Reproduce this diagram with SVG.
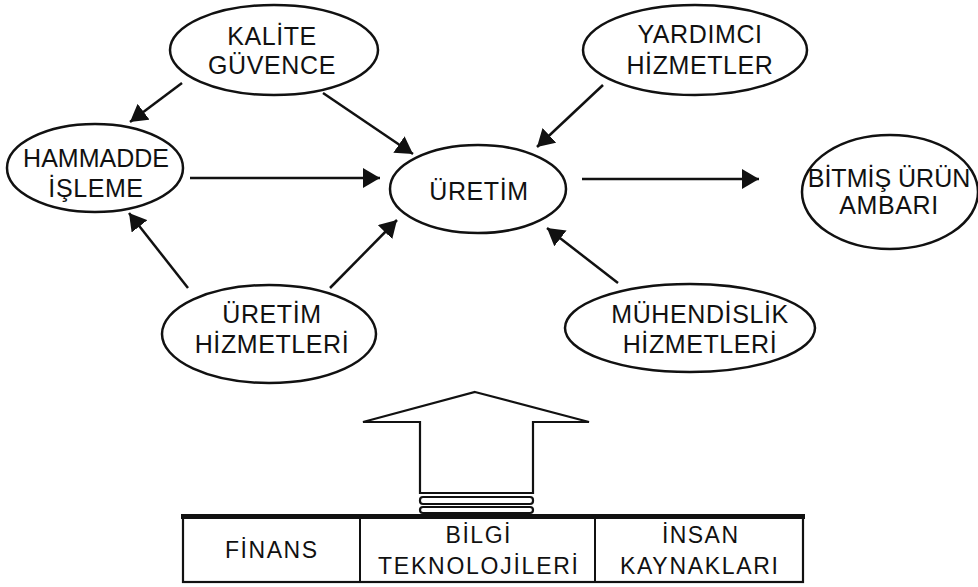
<svg xmlns="http://www.w3.org/2000/svg" width="978" height="587" viewBox="0 0 978 587">
  <style>
    .node ellipse { fill: #fff; stroke: #111; stroke-width: 2.5; }
    .label { font-family: "Liberation Sans", Arial, sans-serif; font-size: 25px; letter-spacing: 0.6px; fill: #111; text-anchor: middle; }
    .cell { font-family: "Liberation Sans", Arial, sans-serif; font-size: 23px; fill: #111; text-anchor: middle; }
    .edge { stroke: #111; stroke-width: 2.5; fill: none; marker-end: url(#head); }
    .outline { fill: #fff; stroke: #111; stroke-width: 2.2; }
  </style>
  <defs>
    <marker id="head" markerUnits="userSpaceOnUse" markerWidth="18" markerHeight="20" refX="17" refY="10" orient="auto">
      <path d="M0,0 L17,10 L0,20 z" fill="#111"/>
    </marker>
  </defs>
  <rect width="978" height="587" fill="#fff"/>

  <!-- connectors -->
  <g id="connectors">
    <line class="edge" x1="182" y1="83" x2="130" y2="122"/>
    <line class="edge" x1="323" y1="93" x2="413" y2="154"/>
    <line class="edge" x1="190" y1="178" x2="380" y2="178"/>
    <line class="edge" x1="603" y1="85" x2="537" y2="147"/>
    <line class="edge" x1="582" y1="179" x2="759" y2="179"/>
    <line class="edge" x1="188" y1="288" x2="129" y2="213"/>
    <line class="edge" x1="330" y1="288" x2="397" y2="220"/>
    <line class="edge" x1="618" y1="283" x2="547" y2="228"/>
  </g>

  <g id="kalite" class="node">
    <ellipse cx="274" cy="50" rx="104" ry="45"/>
    <text class="label" x="272" y="45">KALİTE</text>
    <text class="label" x="272" y="74">GÜVENCE</text>
  </g>

  <g id="yardimci" class="node">
    <ellipse cx="695" cy="50" rx="112" ry="45"/>
    <text class="label" x="700" y="43">YARDIMCI</text>
    <text class="label" x="700" y="74">HİZMETLER</text>
  </g>

  <g id="hammadde" class="node">
    <ellipse cx="95" cy="168" rx="88" ry="44"/>
    <text class="label" x="96" y="167" style="letter-spacing:0">HAMMADDE</text>
    <text class="label" x="96" y="197">İŞLEME</text>
  </g>

  <g id="uretim" class="node">
    <ellipse cx="478" cy="189" rx="88" ry="44"/>
    <text class="label" x="479" y="200">ÜRETİM</text>
  </g>

  <g id="bitmis" class="node">
    <ellipse cx="890" cy="192" rx="88" ry="57"/>
    <text class="label" x="889" y="187" style="letter-spacing:0">BİTMİŞ ÜRÜN</text>
    <text class="label" x="889" y="214">AMBARI</text>
  </g>

  <g id="uretim-hizmetleri" class="node">
    <ellipse cx="269" cy="334" rx="107" ry="49"/>
    <text class="label" x="272" y="323">ÜRETİM</text>
    <text class="label" x="272" y="353">HİZMETLERİ</text>
  </g>

  <g id="muhendislik" class="node">
    <ellipse cx="690" cy="328" rx="125" ry="44"/>
    <text class="label" x="700" y="323">MÜHENDİSLİK</text>
    <text class="label" x="700" y="353">HİZMETLERİ</text>
  </g>

  <!-- hollow block arrow rising from the support base -->
  <g id="support-arrow">
    <polygon class="outline" points="475,392 589,422 533,422 533,493 420,493 420,422 363,422"/>
    <rect class="outline" x="420" y="497" width="113" height="7" rx="3" stroke-width="2"/>
    <rect class="outline" x="420" y="507" width="113" height="6" rx="3" stroke-width="2"/>
  </g>

  <!-- support base: three resource cells -->
  <g id="support-base">
    <rect x="183" y="517" width="620" height="65" fill="#fff" stroke="#111" stroke-width="2.2"/>
    <line x1="181" y1="516.5" x2="805" y2="516.5" stroke="#111" stroke-width="5"/>
    <line x1="360" y1="517" x2="360" y2="582" stroke="#111" stroke-width="2"/>
    <line x1="595" y1="517" x2="595" y2="582" stroke="#111" stroke-width="2"/>
    <text class="cell" x="271" y="558" textLength="92" lengthAdjust="spacing">FİNANS</text>
    <text class="cell" x="478" y="543" textLength="65" lengthAdjust="spacing">BİLGİ</text>
    <text class="cell" x="478" y="574" textLength="200" lengthAdjust="spacing">TEKNOLOJİLERİ</text>
    <text class="cell" x="700" y="543" textLength="76" lengthAdjust="spacing">İNSAN</text>
    <text class="cell" x="699" y="574" textLength="158" lengthAdjust="spacing">KAYNAKLARI</text>
  </g>
</svg>
